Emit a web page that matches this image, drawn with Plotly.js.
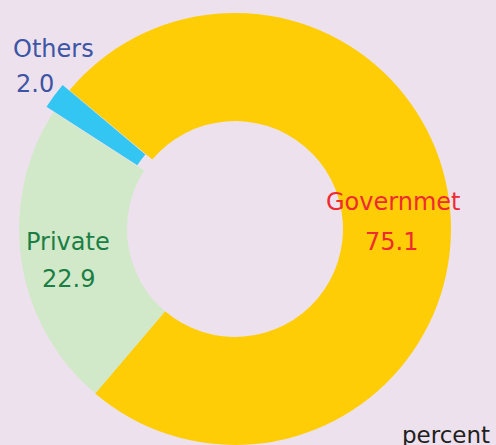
<!DOCTYPE html>
<html>
<head>
<meta charset="utf-8">
<script src="https://cdn.plot.ly/plotly-3.0.1.min.js"></script>
<style>
html,body{margin:0;padding:0;overflow:hidden;background:#EDE1EE;}
#chart{width:496px;height:470px;}
</style>
</head>
<body>
<div id="chart"></div>
<script>
var categories = ["Governmet", "Private", "Others"];
var values = [75.1, 22.9, 2.0];
var sliceColors = ["#FFCD05", "#D2E9C9", "#33C6F2"];
var labelColors = ["#EE2A32", "#1B7F45", "#3D55A5"];
var unitLabel = "percent";

var W = 496, H = 470;
function px(x){return x / W;}
function py(y){return 1 - y / H;}

var trace = {
  type: "pie",
  labels: categories,
  values: values,
  sort: false,
  direction: "clockwise",
  rotation: 310,
  hole: 0.5,
  pull: [0, 0, 0.04],
  marker: {colors: sliceColors, line: {width: 0}},
  textinfo: "none",
  hoverinfo: "none",
  showlegend: false,
  domain: {x: [0.0209, 0.9267], y: [0.0349, 0.9907]}
};

var font = "DejaVu Sans, sans-serif";
var labelPos = [
  {lx: 392.5, ly: 201.5, vx: 391, vy: 241.5, anchor: "center"},
  {lx: 67.5, ly: 241.5, vx: 68, vy: 279, anchor: "center"},
  {lx: 11, ly: 49, vx: 14, vy: 83.5, anchor: "left"}
];
var annotations = [];
categories.forEach(function(c, i){
  var p = labelPos[i];
  annotations.push({xref:"paper", yref:"paper", x: px(p.lx), y: py(p.ly), xanchor: p.anchor, yanchor: "middle",
    text: c, showarrow: false, font: {family: font, size: 24, color: labelColors[i]}});
  annotations.push({xref:"paper", yref:"paper", x: px(p.vx), y: py(p.vy), xanchor: p.anchor, yanchor: "middle",
    text: values[i].toFixed(1), showarrow: false, font: {family: font, size: 24, color: labelColors[i]}});
});
annotations.push({xref:"paper", yref:"paper", x: px(445.5), y: py(435), xanchor: "center", yanchor: "middle",
  text: unitLabel, showarrow: false, font: {family: font, size: 23, color: "#231F20"}});

var layout = {
  width: W, height: H,
  margin: {l:0, r:0, t:0, b:0},
  paper_bgcolor: "#EDE1EE",
  plot_bgcolor: "#EDE1EE",
  showlegend: false,
  annotations: annotations
};

Plotly.newPlot("chart", [trace], layout, {displayModeBar: false, staticPlot: true});
</script>
</body>
</html>
